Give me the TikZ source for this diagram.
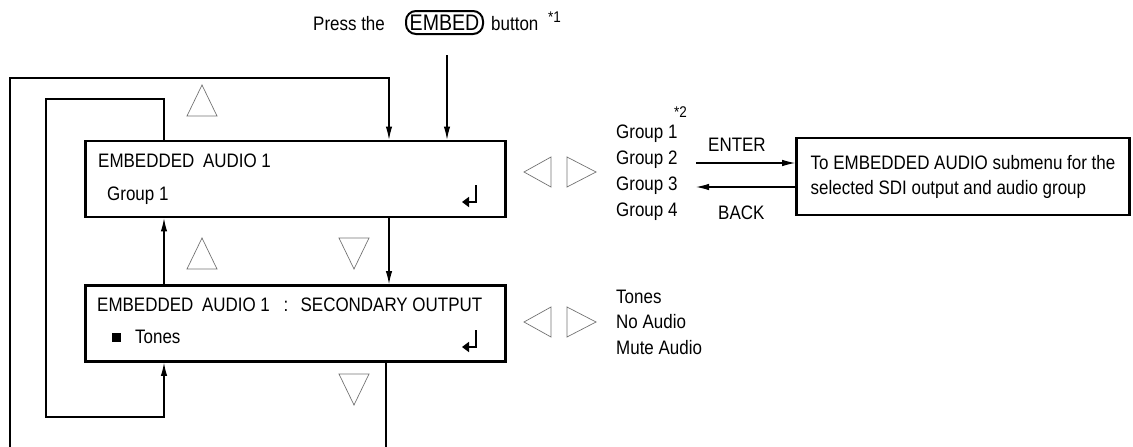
\documentclass[tikz,border=0pt]{standalone}
\usepackage{fontspec}
\setmainfont{Liberation Sans}[FakeStretch=0.87]
\usepackage{tikz}
\usetikzlibrary{arrows.meta}

\newcommand{\boxfont}{\fontsize{19.5}{25}\selectfont}
\newcommand{\notefont}{\fontsize{15.5}{18}\selectfont}

\begin{document}
\begin{tikzpicture}[
    x=1pt, y=-1pt,
    font=\boxfont,
    conn/.style  = {draw=black, line width=1.1pt},
    arr/.style   = {conn, -{Latex[length=13pt,width=6.5pt]}},
    menu/.style  = {draw=black, line width=2.8pt, minimum width=420pt, minimum height=76pt, inner sep=0pt},
    tri/.style   = {draw=black!55, line width=0.7pt, line join=miter},
    item/.style  = {anchor=base west, inner sep=0pt},
    enter/.style = {line width=2.8pt, -{Triangle[length=7pt,width=10pt]}},
]
\useasboundingbox (0,0) rectangle (1133,447);

%======== EMBED button ========
\node[item] (press) at (313,30) {Press the};
\node[draw, line width=2pt, rounded corners=10pt, minimum width=77pt, minimum height=23pt,
      inner sep=0pt, font=\fontsize{22.5}{24}\selectfont] (embed) at (444.5,22.5) {EMBED};
\node[item] (button) at (491,30) {button};
\node[item, font=\notefont] (fn1) at (548,22) {*1};

%======== the two menu boxes ========
\node[menu] (menu1) at (295.5,179) {};
\node[item] (m1title) at (98,167) {EMBEDDED\hspace{4pt} AUDIO 1};
\node[item] (m1val) at (107,200) {Group 1};

\node[menu] (menu2) at (295.5,323.5) {};
\node[item] (m2title) at (97,311) {EMBEDDED\hspace{4pt} AUDIO 1\hspace{9pt} :\hspace{6pt} SECONDARY OUTPUT};
\node[fill=black, minimum size=9pt, inner sep=0pt] (m2sq) at (116.5,337) {};
\node[item] (m2val) at (135,343) {Tones};

% enter marks
\foreach \y in {0,145}
    \draw[enter] (476,185+\y) -- (476,202+\y) -- (462,202+\y);

%======== loops ========
\coordinate (oA) at (10,447);
\coordinate (oB) at (10,78);
\coordinate (oC) at (389,78);
\coordinate (oD) at (386,447);
\coordinate (iA) at (164,99);
\coordinate (iB) at (46,99);
\coordinate (iC) at (46,417);
\coordinate (iD) at (164,417);
\coordinate (pS) at (447,55);

\draw[arr] (pS) -- (menu1.north -| pS);
\draw[arr] (oA) -- (oB) -- (oC) -- (menu1.north -| oC);
\draw[arr] (menu1.south -| oC) -- (menu2.north -| oC);
\draw[conn] (menu2.south -| oD) -- (oD);
\draw[arr] (menu1.north -| iA) -- (iA) -- (iB) -- (iC) -- (iD) -- (menu2.south -| iD);
\draw[arr] (menu2.north -| iA) -- (menu1.south -| iA);

% up / down keys
\draw[tri] (202,85) -- (187,116) -- (217,116) -- cycle;
\draw[tri] (202,238) -- (187,269) -- (217,269) -- cycle;
\draw[tri] (354,269) -- (339,238) -- (369,238) -- cycle;
\draw[tri] (354,405) -- (339,374) -- (369,374) -- cycle;

% left / right keys
\foreach \y in {172,322} {
    \draw[tri] (524,\y) -- (551,\y-15) -- (551,\y+15) -- cycle;
    \draw[tri] (596,\y) -- (567,\y-15) -- (567,\y+15) -- cycle;
}

%======== choices ========
\foreach \g in {1,...,4}
    \node[item] (grp\g) at (616,112+26*\g) {Group \g};
\node[item, font=\notefont] (fn2) at (674,117) {*2};

\node[item] (tones) at (616,303) {Tones};
\node[item] (noaud) at (616,328) {No Audio};
\node[item] (mute) at (616,354) {Mute Audio};

%======== submenu ========
\node[draw=black, line width=2.6pt, minimum width=333pt, minimum height=77pt, align=left,
      inner sep=0pt] (sub) at (963,176.5)
      {To EMBEDDED AUDIO submenu for the\\selected SDI output and audio group};

\coordinate (entS) at (696,163);
\coordinate (backE) at (696,187);
\draw[arr] (entS) -- (entS -| sub.west);
\draw[arr] (backE -| sub.west) -- (backE);
\node[item] (entlbl) at (708,151) {ENTER};
\node[item] (backlbl) at (718,219) {BACK};

\end{tikzpicture}
\end{document}
